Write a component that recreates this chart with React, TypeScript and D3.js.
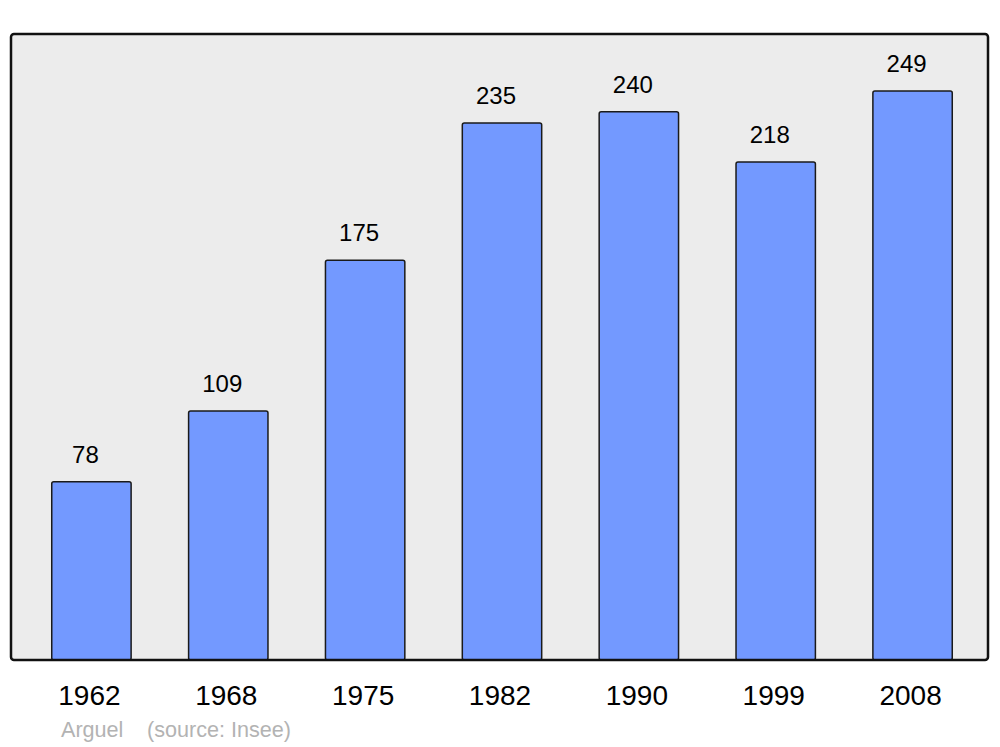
import React, { useEffect, useRef } from 'react'
import * as d3 from 'd3'

const years: string[] = ['1962', '1968', '1975', '1982', '1990', '1999', '2008']
const population: number[] = [78, 109, 175, 235, 240, 218, 249]
const commune = 'Arguel'
const source = '(source: Insee)'

export default function App() {
  const svgRef = useRef<SVGSVGElement | null>(null)
  const width = 1000
  const height = 747

  useEffect(() => {
    const svg = d3.select(svgRef.current)
    svg.selectAll('*').remove() // reset

    const panel = { left: 11, right: 988, top: 34, bottom: 660 }

    const x = d3
      .scaleBand()
      .domain(years)
      .range([23, 981])
      .paddingInner(0.42)
      .paddingOuter(0.21)

    const y = d3.scaleLinear().domain([0, 274]).range([panel.bottom, panel.top])

    // grey background
    svg
      .append('rect')
      .attr('x', panel.left)
      .attr('y', panel.top)
      .attr('width', panel.right - panel.left)
      .attr('height', panel.bottom - panel.top)
      .attr('rx', 3)
      .attr('fill', '#ececec')

    const data = years.map((yr, i) => ({ yr, v: population[i] }))

    svg
      .append('g')
      .selectAll('rect')
      .data(data)
      .join('rect')
      .attr('x', d => x(d.yr)!)
      .attr('y', d => y(d.v))
      .attr('width', x.bandwidth())
      .attr('height', d => panel.bottom - y(d.v))
      .attr('rx', 2)
      .attr('fill', '#7399ff')
      .attr('stroke', '#1a1a1a')
      .attr('stroke-width', 1.5)

    // frame on top of the bars
    svg
      .append('rect')
      .attr('x', panel.left)
      .attr('y', panel.top)
      .attr('width', panel.right - panel.left)
      .attr('height', panel.bottom - panel.top)
      .attr('rx', 3)
      .attr('fill', 'none')
      .attr('stroke', '#111')
      .attr('stroke-width', 2.5)

    // value labels
    svg
      .append('g')
      .selectAll('text')
      .data(data)
      .join('text')
      .attr('x', d => x(d.yr)! + x.bandwidth() / 2 - 6)
      .attr('y', d => y(d.v) - 19)
      .attr('text-anchor', 'middle')
      .attr('font-family', 'Liberation Sans, Arial, sans-serif')
      .attr('font-size', 24)
      .attr('fill', '#000')
      .text(d => d.v)

    // year labels
    svg
      .append('g')
      .selectAll('text')
      .data(data)
      .join('text')
      .attr('x', d => x(d.yr)! + x.bandwidth() / 2 - 2)
      .attr('y', 705)
      .attr('text-anchor', 'middle')
      .attr('font-family', 'Liberation Sans, Arial, sans-serif')
      .attr('font-size', 28)
      .attr('fill', '#000')
      .text(d => d.yr)

    // footer
    const foot = svg
      .append('g')
      .attr('font-family', 'Liberation Sans, Arial, sans-serif')
      .attr('font-size', 21.6)
      .attr('fill', '#b3b3b3')
    foot.append('text').attr('x', 61).attr('y', 737).text(commune)
    foot.append('text').attr('x', 147).attr('y', 737).text(source)
  }, [])

  return (
    <svg
      ref={svgRef}
      width={width}
      height={height}
      style={{ position: 'absolute', left: 0, top: 0, background: '#fff' }}
    ></svg>
  )
}
